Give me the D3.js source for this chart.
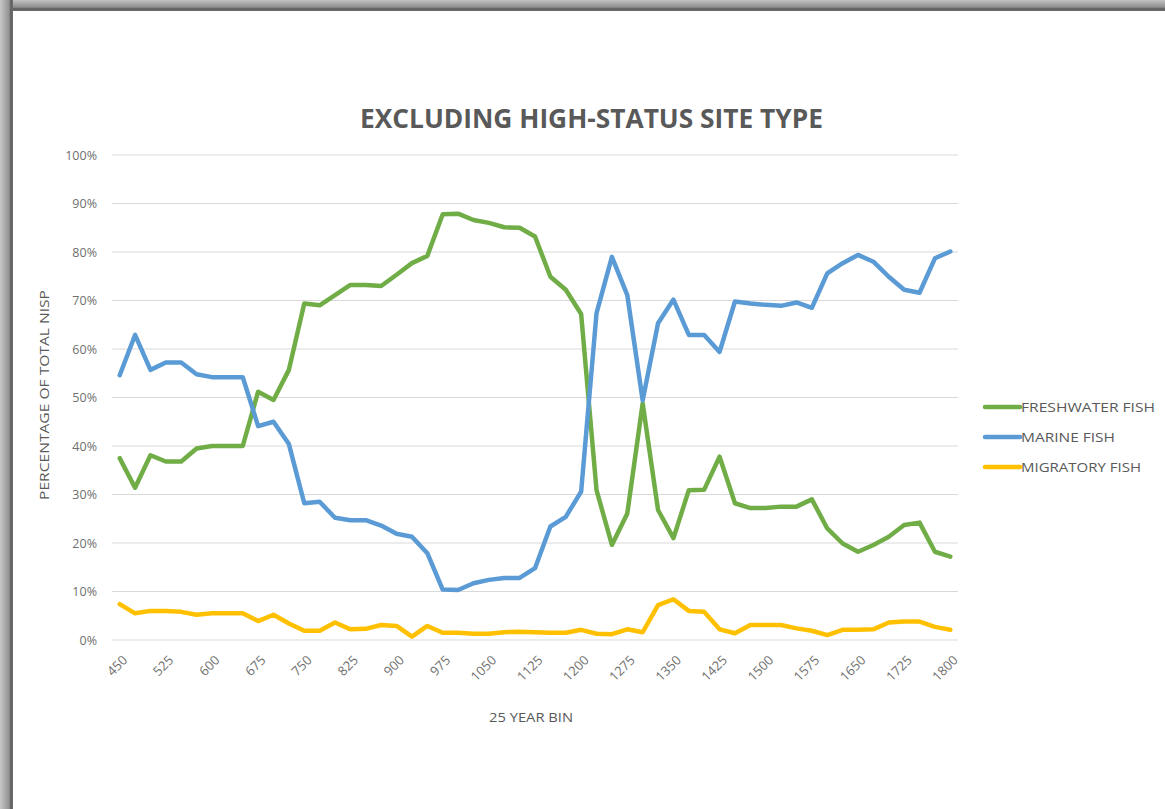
<!DOCTYPE html>
<html>
<head>
<meta charset="utf-8">
<script src="https://cdn.jsdelivr.net/npm/d3@7"></script>
<style>
  html, body { margin: 0; padding: 0; background: #ffffff; }
  svg { display: block; }
  text { font-family: "Open Sans", "Liberation Sans", sans-serif; }
</style>
</head>
<body>
<svg id="chart" width="1165" height="809"></svg>
<script>
// 25-year bins (category axis)
const bins = [450, 475, 500, 525, 550, 575, 600, 625, 650, 675,
              700, 725, 750, 775, 800, 825, 850, 875, 900, 925,
              950, 975, 1000, 1025, 1050, 1075, 1100, 1125, 1150, 1175,
              1200, 1225, 1250, 1275, 1300, 1325, 1350, 1375, 1400, 1425,
              1450, 1475, 1500, 1525, 1550, 1575, 1600, 1625, 1650, 1675,
              1700, 1725, 1750, 1775, 1800];

// Percentage of total NISP per bin
const freshwater = [37.5, 31.4, 38.1, 36.8, 36.8, 39.5, 40.0, 40.0, 40.0, 51.2,
                    49.5, 55.7, 69.4, 69.0, 71.1, 73.2, 73.2, 73.0, 75.3, 77.7,
                    79.2, 87.8, 87.9, 86.6, 86.0, 85.1, 85.0, 83.2, 74.9, 72.2,
                    67.2, 30.9, 19.6, 26.1, 48.8, 26.8, 21.0, 30.9, 31.0, 37.8,
                    28.2, 27.2, 27.2, 27.5, 27.5, 29.0, 23.0, 19.9, 18.2, 19.6,
                    21.3, 23.7, 24.2, 18.2, 17.2];
const marine = [54.6, 62.9, 55.7, 57.2, 57.2, 54.8, 54.2, 54.2, 54.2, 44.1,
                45.0, 40.4, 28.2, 28.5, 25.2, 24.7, 24.7, 23.6, 21.9, 21.3,
                17.9, 10.4, 10.3, 11.7, 12.4, 12.8, 12.8, 14.8, 23.4, 25.4,
                30.6, 67.4, 79.0, 71.1, 49.4, 65.3, 70.2, 62.9, 62.9, 59.4,
                69.8, 69.4, 69.1, 68.9, 69.6, 68.5, 75.6, 77.7, 79.4, 78.0,
                74.9, 72.2, 71.6, 78.7, 80.1];
const migratory = [7.4, 5.5, 6.0, 6.0, 5.8, 5.2, 5.5, 5.5, 5.5, 3.9,
                   5.2, 3.4, 1.9, 1.9, 3.6, 2.2, 2.3, 3.1, 2.9, 0.7,
                   2.9, 1.5, 1.5, 1.3, 1.3, 1.6, 1.7, 1.6, 1.5, 1.5,
                   2.1, 1.3, 1.2, 2.2, 1.6, 7.2, 8.4, 6.0, 5.8, 2.2,
                   1.4, 3.1, 3.1, 3.1, 2.4, 1.9, 1.0, 2.1, 2.1, 2.2,
                   3.6, 3.8, 3.8, 2.7, 2.1];

const seriesNames = ["FRESHWATER FISH", "MARINE FISH", "MIGRATORY FISH"];
const seriesColors = ["#70ad47", "#5b9bd5", "#ffc000"];
const yTicks = [0, 10, 20, 30, 40, 50, 60, 70, 80, 90, 100];
const xTickLabels = bins.filter((b, i) => i % 3 === 0);

const series = [freshwater, marine, migratory].map((vals, k) => ({
  name: seriesNames[k], color: seriesColors[k], values: vals
}));

const svg = d3.select("#chart");

// Window frame (top and left bevels)
const defs = svg.append("defs");
const gTop = defs.append("linearGradient").attr("id", "frameTop")
  .attr("x1", 0).attr("y1", 0).attr("x2", 0).attr("y2", 1);
gTop.append("stop").attr("offset", "0%").attr("stop-color", "#c2c2c2");
gTop.append("stop").attr("offset", "65%").attr("stop-color", "#8e8e8e");
gTop.append("stop").attr("offset", "80%").attr("stop-color", "#5e5e5e");
gTop.append("stop").attr("offset", "100%").attr("stop-color", "#6e6e6e");
const gLeft = defs.append("linearGradient").attr("id", "frameLeft")
  .attr("x1", 0).attr("y1", 0).attr("x2", 1).attr("y2", 0);
gLeft.append("stop").attr("offset", "0%").attr("stop-color", "#c8c8c8");
gLeft.append("stop").attr("offset", "70%").attr("stop-color", "#929292");
gLeft.append("stop").attr("offset", "84%").attr("stop-color", "#5e5e5e");
gLeft.append("stop").attr("offset", "100%").attr("stop-color", "#707070");

svg.append("rect").attr("x", 0).attr("y", 0).attr("width", 1165).attr("height", 11)
  .attr("fill", "url(#frameTop)");
svg.append("rect").attr("x", 0).attr("y", 0).attr("width", 13).attr("height", 809)
  .attr("fill", "url(#frameLeft)");

// Plot area
const plot = { left: 112, right: 958, top: 155, bottom: 640 };

const x = d3.scalePoint()
  .domain(bins)
  .range([plot.left, plot.right])
  .padding(0.5);

const y = d3.scaleLinear()
  .domain([0, 100])
  .range([plot.bottom, plot.top]);

// Horizontal gridlines
svg.append("g")
  .selectAll("line")
  .data(yTicks)
  .join("line")
  .attr("x1", plot.left).attr("x2", plot.right)
  .attr("y1", d => y(d)).attr("y2", d => y(d))
  .attr("stroke", "#d9d9d9").attr("stroke-width", 1);

// Y axis labels
const yAxis = d3.axisLeft(y)
  .tickValues(yTicks)
  .tickFormat(d => d + "%")
  .tickSize(0)
  .tickPadding(0);
const yG = svg.append("g")
  .attr("transform", `translate(${plot.left - 15},0)`)
  .call(yAxis);
yG.select(".domain").remove();
yG.selectAll("text")
  .attr("font-size", 12.5)
  .attr("fill", "#6f6f6f")
  .style("font-family", "'Open Sans', sans-serif");

// X axis labels (every third bin, rotated)
const xAxis = d3.axisBottom(x)
  .tickValues(xTickLabels)
  .tickSize(0)
  .tickPadding(0);
const xG = svg.append("g")
  .attr("transform", `translate(0,${plot.bottom})`)
  .call(xAxis);
xG.select(".domain").remove();
xG.selectAll("text")
  .attr("font-size", 13)
  .attr("fill", "#6f6f6f")
  .attr("text-anchor", "end")
  .attr("dy", null)
  .attr("y", 0)
  .attr("transform", "translate(8,21) rotate(-45)");

// Lines
const line = d3.line()
  .x((d, i) => x(bins[i]))
  .y(d => y(d));

svg.append("g")
  .selectAll("path")
  .data(series)
  .join("path")
  .attr("d", d => line(d.values))
  .attr("fill", "none")
  .attr("stroke", d => d.color)
  .attr("stroke-width", 4.5)
  .attr("stroke-linejoin", "round")
  .attr("stroke-linecap", "round");

// Fit a text element to a target width
function fitWidth(sel, w) {
  const node = sel.node();
  const natural = node.getComputedTextLength();
  if (Math.abs(natural - w) > 2) {
    sel.attr("textLength", w).attr("lengthAdjust", "spacingAndGlyphs");
  }
  return sel;
}

// Title
const title = svg.append("text")
  .attr("x", (360 + 823) / 2)
  .attr("y", 128)
  .attr("text-anchor", "middle")
  .attr("font-size", 27)
  .attr("font-weight", 700)
  .attr("fill", "#595959")
  .text("EXCLUDING HIGH-STATUS SITE TYPE");
fitWidth(title, 463);

// Axis titles
const yTitle = svg.append("text")
  .attr("transform", `translate(49,${(290 + 500) / 2}) rotate(-90)`)
  .attr("text-anchor", "middle")
  .attr("font-size", 12.5)
  .attr("fill", "#595959")
  .text("PERCENTAGE OF TOTAL NISP");
fitWidth(yTitle, 210);

const xTitle = svg.append("text")
  .attr("x", (plot.left + plot.right) / 2 - 4)
  .attr("y", 722)
  .attr("text-anchor", "middle")
  .attr("font-size", 12.5)
  .attr("fill", "#595959")
  .text("25 YEAR BIN");
fitWidth(xTitle, 84);

// Legend
const legend = svg.append("g");
const legendRows = legend.selectAll("g")
  .data(series)
  .join("g")
  .attr("transform", (d, i) => `translate(985,${407 + i * 30})`);
legendRows.append("line")
  .attr("x1", 0).attr("x2", 35)
  .attr("y1", 0).attr("y2", 0)
  .attr("stroke", d => d.color)
  .attr("stroke-width", 4.5)
  .attr("stroke-linecap", "round");
legendRows.append("text")
  .attr("x", 36)
  .attr("y", 5)
  .attr("font-size", 13)
  .attr("fill", "#595959")
  .text(d => d.name)
  .each(function (d, i) {
    const widths = [134, 94, 120];
    fitWidth(d3.select(this), widths[i]);
  });
</script>
</body>
</html>
